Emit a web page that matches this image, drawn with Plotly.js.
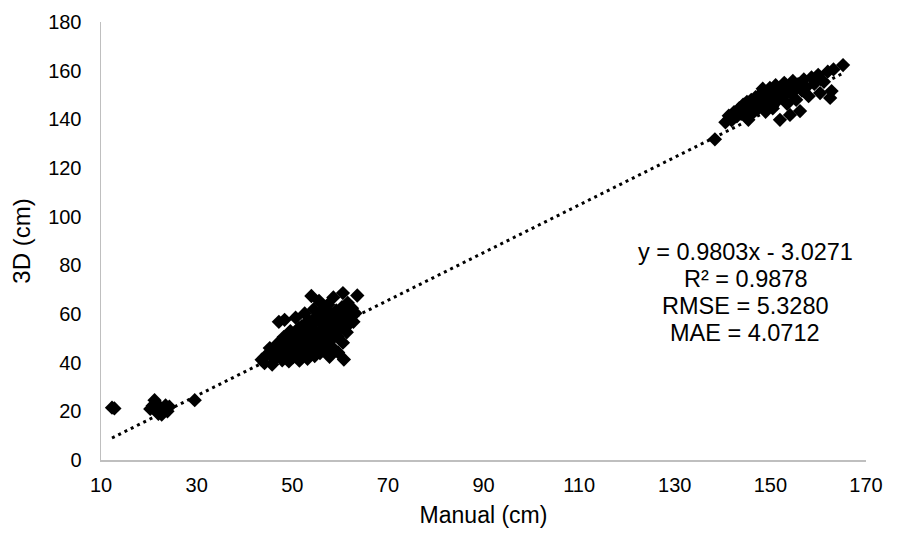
<!DOCTYPE html>
<html>
<head>
<meta charset="utf-8">
<script src="https://cdn.plot.ly/plotly-3.0.1.min.js"></script>
<style>html,body{margin:0;padding:0;background:#fff;}#chart{width:912px;height:538px;}</style>
</head>
<body>
<div id="chart"></div>
<script>
// Low cluster
var lowX = [12.3, 12.8, 20.3, 20.8, 21.2, 21.6, 22.0, 22.3, 22.7, 23.1, 23.5, 23.9, 24.3, 29.6];
var lowY = [21.5, 21.2, 21.0, 22.3, 24.6, 20.2, 19.0, 21.8, 18.7, 20.6, 22.4, 20.0, 21.9, 24.6];

// Middle cluster
var midX = [43.6, 44.2, 44.8, 45.3, 45.8, 46.2, 46.6, 47.0, 47.2, 47.5, 47.9, 48.2, 48.4, 48.8, 49.0,
            49.3, 49.6, 49.9, 50.2, 50.5, 50.7, 51.0, 51.2, 51.5, 51.7, 52.0, 52.2, 52.4, 52.6, 52.8,
            53.0, 53.2, 53.4, 53.6, 54.0, 54.0, 54.1, 54.3, 54.5, 54.7, 54.9, 55.1, 55.3, 55.5, 55.6,
            55.8, 56.0, 56.2, 56.4, 56.5, 56.7, 56.9, 57.1, 57.3, 57.5, 57.6, 57.8, 58.0, 58.2, 58.4,
            58.6, 58.8, 59.0, 59.2, 59.4, 59.6, 59.8, 60.0, 60.6, 60.4, 60.6, 60.8, 61.0, 61.2, 61.4,
            61.6, 61.9, 62.2, 62.5, 62.8, 63.2, 63.6, 50.0, 51.4, 53.1, 54.6, 56.1, 57.9, 49.1, 50.8];
var midY = [41.2, 39.8, 43.5, 46.0, 39.2, 44.5, 42.0, 48.0, 56.8, 45.2, 41.0, 50.5, 57.6, 43.8, 47.2,
            40.5, 53.0, 45.8, 42.3, 49.5, 58.5, 44.0, 51.8, 40.8, 47.3, 55.0, 43.1, 49.0, 60.2, 45.7,
            52.6, 41.6, 57.3, 47.9, 67.4, 44.6, 50.4, 54.1, 62.0, 42.7, 48.6, 59.2, 46.0, 51.7, 65.4,
            43.9, 56.2, 49.7, 53.4, 61.8, 45.2, 58.0, 47.6, 51.0, 63.9, 55.0, 42.4, 49.0, 59.7, 53.2,
            66.8, 45.5, 56.6, 61.5, 50.8, 44.2, 58.6, 54.2, 68.6, 62.8, 48.2, 41.3, 57.4, 60.4, 52.5,
            64.6, 55.9, 59.0, 62.4, 56.8, 60.3, 67.6, 51.2, 54.3, 49.8, 57.0, 52.1, 46.6, 44.9, 47.4];

// Upper cluster
var highX = [138.4, 140.6, 141.3, 141.9, 142.4, 143.0, 143.5, 143.9, 144.3, 144.7, 145.1, 145.4, 145.7,
             146.0, 146.3, 146.6, 146.9, 147.2, 147.5, 147.8, 148.1, 148.4, 148.7, 149.0, 149.3, 149.6,
             149.9, 150.2, 150.5, 150.8, 151.1, 151.4, 151.7, 152.0, 152.3, 152.6, 152.9, 153.2, 153.5,
             153.8, 154.1, 154.4, 154.7, 155.0, 155.4, 155.8, 156.2, 156.6, 157.0, 157.5, 158.0, 158.6,
             159.2, 160.0, 160.4, 161.2, 162.0, 162.5, 162.8, 163.2, 165.2];
var highY = [131.8, 138.8, 141.5, 139.6, 143.0, 141.2, 144.6, 142.3, 146.0, 143.5, 147.2, 139.8, 144.8,
             148.0, 142.6, 146.4, 149.1, 144.0, 147.6, 150.2, 145.4, 152.6, 148.5, 143.1, 150.8, 146.9,
             152.9, 148.9, 144.5, 151.5, 154.0, 147.5, 150.0, 139.8, 153.0, 149.2, 155.0, 151.2, 146.4,
             153.6, 141.8, 150.5, 155.8, 152.4, 148.0, 154.5, 143.4, 151.8, 156.4, 153.2, 149.5, 157.2,
             154.6, 158.3, 150.8, 155.4, 159.6, 148.8, 151.6, 160.5, 162.3];

// Linear trendline endpoints (y = 0.9803x - 3.0271, from min x to max x)
var trendX = [12.3, 165.2];
var trendY = [9.03, 158.92];

var xTickVals = [10, 30, 50, 70, 90, 110, 130, 150, 170];
var yTickVals = [0, 20, 40, 60, 80, 100, 120, 140, 160, 180];

var statLines = ["y = 0.9803x - 3.0271", "R² = 0.9878", "RMSE = 5.3280", "MAE = 4.0712"];
var statLineY = [85.3, 74.2, 63.1, 52.0];
var statX = 144.7;

var allX = lowX.concat(midX, highX);
var allY = lowY.concat(midY, highY);

var font = "Liberation Sans, Arial, sans-serif";

var traces = [
  {
    x: allX, y: allY, type: "scatter", mode: "markers",
    marker: {symbol: "diamond", size: 11, color: "#000000", line: {width: 0}},
    hoverinfo: "skip"
  },
  {
    x: trendX, y: trendY, type: "scatter", mode: "lines",
    line: {color: "#000000", width: 3, dash: "3px,4px"},
    hoverinfo: "skip"
  }
];

var annotations = statLines.map(function (t, i) {
  return {
    x: statX, y: statLineY[i], xref: "x", yref: "y", text: t, showarrow: false,
    align: "center", xanchor: "center", yanchor: "middle",
    font: {family: font, size: 23.5, color: "#000000"}
  };
});

var layout = {
  width: 912, height: 538,
  margin: {l: 101, r: 46, t: 22, b: 78},
  paper_bgcolor: "#ffffff", plot_bgcolor: "#ffffff",
  showlegend: false,
  font: {family: font, color: "#000000", size: 20},
  xaxis: {
    range: [10, 170], tickvals: xTickVals, ticktext: xTickVals.map(String),
    showgrid: false, zeroline: false, showline: true, linecolor: "#bfbfbf", linewidth: 1.5,
    ticks: "", ticklabelstandoff: 6,
    tickfont: {family: font, size: 20, color: "#000000"},
    title: {text: "Manual (cm)", font: {family: font, size: 23, color: "#000000"}, standoff: 12}
  },
  yaxis: {
    range: [0, 180], tickvals: yTickVals, ticktext: yTickVals.map(String),
    showgrid: false, zeroline: false, showline: true, linecolor: "#bfbfbf", linewidth: 1.5,
    ticks: "", ticklabelstandoff: 14,
    tickfont: {family: font, size: 20, color: "#000000"},
    title: {text: "3D (cm)", font: {family: font, size: 24, color: "#000000"}, standoff: 10}
  },
  annotations: annotations
};

Plotly.newPlot("chart", traces, layout, {displayModeBar: false, staticPlot: true});
</script>
</body>
</html>
